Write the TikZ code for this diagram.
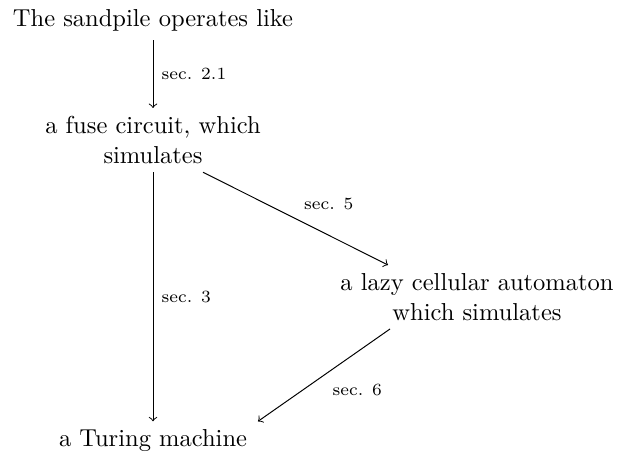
\documentclass[tikz,border=0pt]{standalone}
\usetikzlibrary{calc}
\begin{document}
\begin{tikzpicture}[x=0.408pt,y=-0.408pt,
  txt/.style={inner sep=3.33pt, align=center},
  lbl/.style={font=\scriptsize},
  arr/.style={->}]
\useasboundingbox (0,0) rectangle (617,454);
\node[txt,anchor=base] (top) at (153,27) {The sandpile operates like};
\node[txt,anchor=north] (fuse) at (153,108) {a fuse circuit, which\\simulates};
\node[txt,anchor=north] (lazy) at (477,265) {a lazy cellular automaton\\which simulates};
\node[txt,anchor=base] (tm) at (153,447) {a Turing machine};
\draw[arr] (top.south) -- node[lbl,right] {sec. 2.1} (top.south |- fuse.north);
\draw[arr] (fuse.south) -- node[lbl,right] {sec. 3} (fuse.south |- tm.north);
\draw[arr] ($(fuse.south)+(50,0)$) -- node[lbl,above right] {sec. 5} ($(lazy.north)+(-89,0)$);
\draw[arr] ($(lazy.south)+(-87,0)$) -- node[lbl,below right] {sec. 6} ($(tm.north)+(105,0)$);
\end{tikzpicture}
\end{document}
